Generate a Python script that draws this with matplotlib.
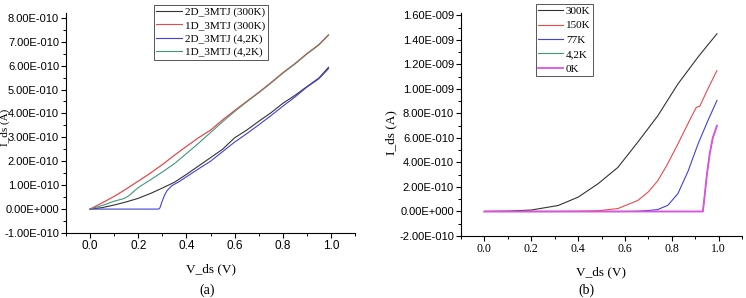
import numpy as np
import matplotlib
matplotlib.use('Agg')
import matplotlib.pyplot as plt
from matplotlib.ticker import MultipleLocator, FixedLocator

# ---- panel (a) data (A x 1e-10) ----
v_2d300 = [0.0, 0.05, 0.1, 0.15, 0.2, 0.25, 0.3, 0.35, 0.4, 0.45, 0.5, 0.55, 0.6, 0.65,
           0.7, 0.75, 0.8, 0.85, 0.9, 0.95, 0.99]
i_2d300 = [0.0, 0.06, 0.17, 0.3, 0.45, 0.65, 0.88, 1.12, 1.45, 1.8, 2.15, 2.5, 2.98, 3.3,
           3.67, 4.02, 4.42, 4.75, 5.12, 5.48, 5.93]
v_1d300 = [0.0, 0.05, 0.1, 0.15, 0.2, 0.25, 0.3, 0.35, 0.4, 0.45, 0.5, 0.55, 0.6, 0.65,
           0.7, 0.75, 0.8, 0.85, 0.9, 0.95, 0.99]
i_1d300 = [0.0, 0.26, 0.53, 0.84, 1.17, 1.5, 1.86, 2.25, 2.62, 2.98, 3.3, 3.73, 4.12, 4.5,
           4.88, 5.28, 5.7, 6.08, 6.5, 6.88, 7.29]
v_2d42 = [0.0, 0.1, 0.2, 0.285, 0.29, 0.3, 0.31, 0.32, 0.34, 0.37, 0.4, 0.45, 0.5, 0.55,
          0.6, 0.65, 0.7, 0.75, 0.8, 0.85, 0.9, 0.95, 0.99]
i_2d42 = [0.0, 0.0, 0.0, 0.0, 0.05, 0.35, 0.6, 0.78, 0.98, 1.15, 1.35, 1.68, 2.0, 2.4,
          2.8, 3.15, 3.52, 3.9, 4.3, 4.68, 5.1, 5.45, 5.87]
v_1d42 = [0.0, 0.05, 0.1, 0.14, 0.16, 0.2, 0.25, 0.3, 0.35, 0.4, 0.45, 0.5, 0.55, 0.6,
          0.65, 0.7, 0.75, 0.8, 0.85, 0.9, 0.95, 0.99]
i_1d42 = [0.0, 0.15, 0.33, 0.44, 0.55, 0.9, 1.22, 1.55, 1.9, 2.32, 2.75, 3.2, 3.65, 4.08,
          4.48, 4.86, 5.26, 5.68, 6.06, 6.48, 6.86, 7.27]

# ---- panel (b) data (A x 1e-9) ----
v_300 = [0.0, 0.1, 0.2, 0.315, 0.4, 0.485, 0.57, 0.655, 0.74, 0.826, 0.912, 0.95, 0.993]
i_300 = [0.0, 0.003, 0.012, 0.049, 0.117, 0.226, 0.36, 0.566, 0.78, 1.04, 1.26, 1.35, 1.45]
v_150 = [0.0, 0.3, 0.4, 0.485, 0.57, 0.655, 0.7, 0.74, 0.78, 0.826, 0.883, 0.905, 0.92,
         0.954, 0.993]
i_150 = [0.0, 0.0, 0.002, 0.006, 0.024, 0.09, 0.16, 0.25, 0.38, 0.55, 0.77, 0.85, 0.86,
         1.0, 1.15]
v_77 = [0.0, 0.6, 0.655, 0.7, 0.74, 0.783, 0.826, 0.87, 0.912, 0.954, 0.993]
i_77 = [0.0, 0.0, 0.002, 0.008, 0.016, 0.05, 0.145, 0.33, 0.55, 0.74, 0.906]
v_0 = [0.0, 0.5, 0.933, 0.94, 0.95, 0.962, 0.975, 0.993]
i_0 = [0.0, 0.0, 0.0, 0.12, 0.3, 0.47, 0.6, 0.70]

ylab_a = ['-1.00E-010', '0.00E+000', '1.00E-010', '2.00E-010', '3.00E-010', '4.00E-010',
          '5.00E-010', '6.00E-010', '7.00E-010', '8.00E-010']
ylab_b = ['-2.00E-010', '0.00E+000', '2.00E-010', '4.00E-010', '6.00E-010', '8.00E-010',
          '1.00E-009', '1.20E-009', '1.40E-009', '1.60E-009']
xlab = ['0.0', '0.2', '0.4', '0.6', '0.8', '1.0']

serif = 'Liberation Serif'
sans = 'Liberation Sans'

fig = plt.figure(figsize=(7.46, 2.98), dpi=100)
axa = fig.add_axes([66/746, 1-233/298, 289/746, 220/298])
axb = fig.add_axes([461/746, 1-236/298, 281/746, 223/298])

lw = 0.8
axa.plot(v_2d300, np.array(i_2d300)*1e-10, color='#333333', lw=lw, label='2D_3MTJ (300K)')
axa.plot(v_1d300, np.array(i_1d300)*1e-10, color='#e84a4a', lw=lw, label='1D_3MTJ (300K)')
axa.plot(v_2d42, np.array(i_2d42)*1e-10, color='#4040e0', lw=lw, label='2D_3MTJ (4,2K)')
axa.plot(v_1d42, np.array(i_1d42)*1e-10, color='#3a9a7a', lw=lw, label='1D_3MTJ (4,2K)')
axa.plot(v_1d300, np.array(i_1d300)*1e-10, color='#e84a4a', lw=0.6, alpha=0.6)

axb.plot(v_300, np.array(i_300)*1e-9, color='#333333', lw=lw, label='300K')
axb.plot(v_150, np.array(i_150)*1e-9, color='#e84a4a', lw=lw, label='150K')
axb.plot(v_77, np.array(i_77)*1e-9, color='#4040e0', lw=lw, label='77K')
axb.plot(v_0, np.array(i_0)*1e-9, color='#3a9a7a', lw=lw, label='4,2K')
axb.plot(v_0, np.array(i_0)*1e-9, color='#e050e0', lw=1.3, label='0K')

for ax in (axa, axb):
    ax.spines['top'].set_visible(False)
    ax.spines['right'].set_visible(False)
    ax.spines['left'].set_linewidth(0.8)
    ax.spines['bottom'].set_linewidth(0.8)
    ax.set_xlim(-0.1, 1.1)
    ax.xaxis.set_minor_locator(MultipleLocator(0.1))
    ax.tick_params(which='major', direction='out', length=3.5, width=0.8, pad=1.5)
    ax.tick_params(which='minor', direction='out', length=2.2, width=0.7)
    ax.set_xlabel('V_ds (V)', family=serif, fontsize=9.5, labelpad=8)
    ax.set_xticks([0.0, 0.2, 0.4, 0.6, 0.8, 1.0])

axa.set_ylim(-1.0e-10, 8.2e-10)
axa.yaxis.set_major_locator(FixedLocator(np.arange(-1, 9)*1e-10))
axa.yaxis.set_minor_locator(FixedLocator(np.arange(-1, 8)*1e-10 + 0.5e-10))
axa.set_yticklabels(ylab_a, family=sans, fontsize=8)
axa.set_xticklabels(xlab, family=sans, fontsize=8.5)

axb.set_ylim(-2.0e-10, 1.62e-9)
axb.yaxis.set_major_locator(FixedLocator(np.arange(-1, 9)*2e-10))
axb.yaxis.set_minor_locator(FixedLocator(np.arange(-1, 8)*2e-10 + 1e-10))
axb.set_yticklabels(ylab_b, family=sans, fontsize=8)
axb.set_xticklabels(xlab, family=serif, fontsize=8.5)

leg_kw = dict(prop={'family': serif, 'size': 8}, frameon=True, fancybox=False,
              borderpad=0.2, handletextpad=0.3, borderaxespad=0,
              edgecolor='#555555', framealpha=1)
la = axa.legend(loc='upper left', bbox_to_anchor=(154/746, 1-5/298),
                bbox_transform=fig.transFigure, handlelength=2.3, labelspacing=0.3,
                **leg_kw)
la.get_frame().set_linewidth(0.7)
lb = axb.legend(loc='upper left', bbox_to_anchor=(536/746, 1-4/298),
                bbox_transform=fig.transFigure, handlelength=2.2, labelspacing=0.42,
                **leg_kw)
lb.get_frame().set_linewidth(0.7)

fig.text(5/746, 1-127/298, 'I_ds (A)', rotation=90, ha='center', va='center',
         family=serif, fontsize=8)
fig.text(391/746, 1-133/298, 'I_ds (A)', rotation=90, ha='center', va='center',
         family=serif, fontsize=9.5)

fig.text(207/746, 1-290/298, '(a)', ha='center', va='center', family=serif, fontsize=10)
fig.text(586/746, 1-290/298, '(b)', ha='center', va='center', family=serif, fontsize=10)

plt.savefig('out.png', dpi=100)
